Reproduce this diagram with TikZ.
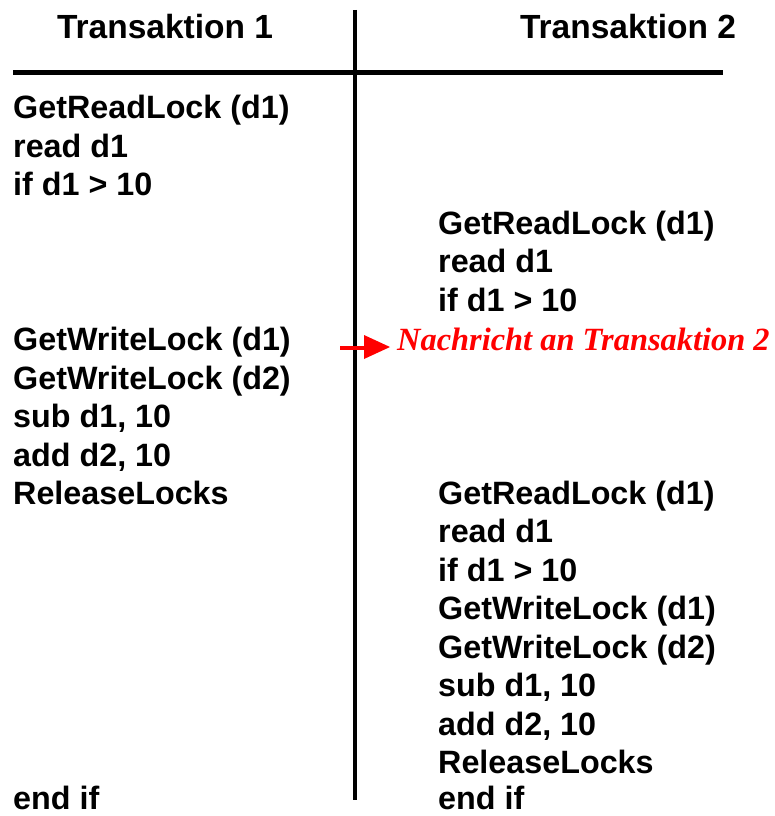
\documentclass[tikz,border=0pt]{standalone}
\usepackage{fontspec}
\setmainfont{Liberation Sans}
\newfontfamily\serifit{Liberation Serif}
\begin{document}
\begin{tikzpicture}[x=1pt,y=-1pt,
  code/.style={anchor=base west,inner sep=0pt,font=\fontsize{32.3}{34}\selectfont\bfseries},
  head/.style={anchor=base,inner sep=0pt,font=\fontsize{33.5}{34}\selectfont\bfseries},
  msg/.style={anchor=base west,inner sep=0pt,text=red,font=\fontsize{32.4}{34}\selectfont\serifit\bfseries\itshape}]
\useasboundingbox (0,0) rectangle (775,816);
\coordinate (vt) at (355,10);
\coordinate (vb) at (355,800);
\coordinate (hl) at (13,72);
\coordinate (hr) at (723,72);
\draw[line width=4pt] (vt) -- (vb);
\draw[line width=5pt] (hl) -- (hr);
\node[head] (h1) at (165,39) {Transaktion 1};
\node[head] (h2) at (628,39) {Transaktion 2};
% left column
\node[code] (l1) at (13,118.5) {GetReadLock (d1)};
\node[code] (l2) at (13,157) {read d1};
\node[code] (l3) at (13,195.5) {if d1 > 10};
\node[code] (l4) at (13,350.5) {GetWriteLock (d1)};
\node[code] (l5) at (13,389) {GetWriteLock (d2)};
\node[code] (l6) at (13,427.5) {sub d1, 10};
\node[code] (l7) at (13,466) {add d2, 10};
\node[code] (l8) at (13,504) {ReleaseLocks};
\node[code] (l9) at (13,809.5) {end if};
% right column
\node[code] (r1) at (438,234) {GetReadLock (d1)};
\node[code] (r2) at (438,272.5) {read d1};
\node[code] (r3) at (438,311) {if d1 > 10};
\node[code] (r4) at (438,504) {GetReadLock (d1)};
\node[code] (r5) at (438,542.5) {read d1};
\node[code] (r6) at (438,581) {if d1 > 10};
\node[code] (r7) at (438,619.5) {GetWriteLock (d1)};
\node[code] (r8) at (438,658) {GetWriteLock (d2)};
\node[code] (r9) at (438,696.5) {sub d1, 10};
\node[code] (r10) at (438,735) {add d2, 10};
\node[code] (r11) at (438,773) {ReleaseLocks};
\node[code] (r12) at (438,809.5) {end if};
% message
\node[msg] (m) at (397,350) {Nachricht an Transaktion 2};
\fill[red] (340,345.5) rectangle (366,349.5);
\fill[red] (364,335) -- (390,347) -- (364,359) -- cycle;
\end{tikzpicture}
\end{document}
